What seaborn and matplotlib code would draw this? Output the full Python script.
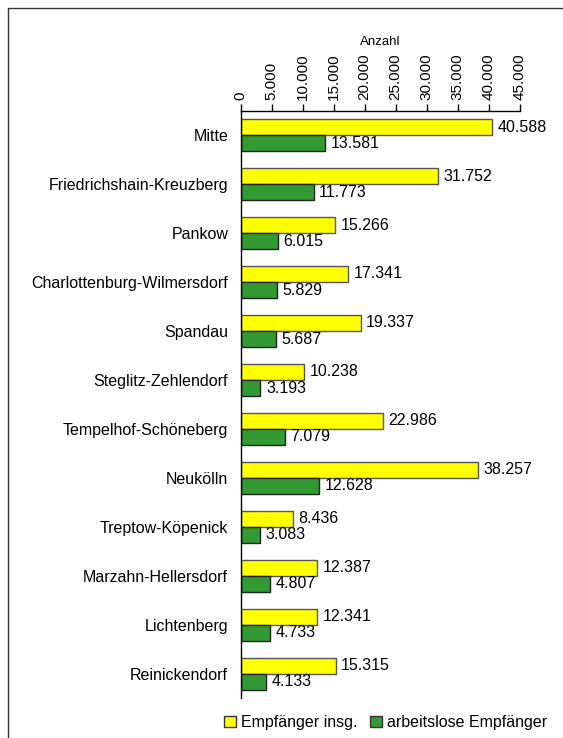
import matplotlib.pyplot as plt
import seaborn as sns
import pandas as pd
from matplotlib.lines import Line2D
from matplotlib.patches import Patch

districts = ["Mitte", "Friedrichshain-Kreuzberg", "Pankow", "Charlottenburg-Wilmersdorf",
             "Spandau", "Steglitz-Zehlendorf", "Tempelhof-Schöneberg", "Neukölln",
             "Treptow-Köpenick", "Marzahn-Hellersdorf", "Lichtenberg", "Reinickendorf"]
total = [40588, 31752, 15266, 17341, 19337, 10238, 22986, 38257, 8436, 12387, 12341, 15315]
unemployed = [13581, 11773, 6015, 5829, 5687, 3193, 7079, 12628, 3083, 4807, 4733, 4133]
series = ["Empfänger insg.", "arbeitslose Empfänger"]
xticks = list(range(0, 45001, 5000))

df = pd.DataFrame({
    "Bezirk": districts * 2,
    "Anzahl": total + unemployed,
    "Gruppe": [series[0]] * len(districts) + [series[1]] * len(districts),
})

sns.set_style("white")
plt.rcParams["font.family"] = ["Liberation Sans", "DejaVu Sans"]
plt.rcParams.update({"text.color": "black", "axes.labelcolor": "black",
                     "xtick.color": "black", "ytick.color": "black"})

fig = plt.figure(figsize=(5.63, 7.38), dpi=100)
ax = fig.add_axes([0.4275, 0.054, 0.4955, 0.796])

colors = {series[0]: "#FFFF00", series[1]: "#339933"}
sns.barplot(data=df, x="Anzahl", y="Bezirk", hue="Gruppe", palette=colors,
            width=0.66, gap=0, saturation=1, legend=False, ax=ax)

# bar edges and value labels
for container, s in zip(ax.containers, series):
    edge = "#555555" if s == series[0] else "#222222"
    for bar in container:
        bar.set_edgecolor(edge)
        bar.set_linewidth(1.0)
    labels = [f"{int(v):,}".replace(",", ".") for v in container.datavalues]
    ax.bar_label(container, labels=labels, padding=4, fontsize=11.5, color="black")

ax.set_xlim(0, 45000)
ax.set_ylim(len(districts) - 0.5, -0.5)
ax.xaxis.tick_top()
ax.xaxis.set_label_position("top")
ax.set_xticks(xticks)
ax.set_xticklabels([f"{t:,}".replace(",", ".") for t in xticks], rotation=90, fontsize=11)
ax.set_xlabel("Anzahl", fontsize=9.5, labelpad=6)
ax.set_ylabel("")

ax.set_yticks(range(len(districts)))
ax.set_yticklabels(districts, fontsize=11.5)
ax.set_yticks([i - 0.5 for i in range(len(districts) + 1)], minor=True)
ax.tick_params(axis="y", which="major", length=0, pad=9)
ax.tick_params(axis="y", which="minor", length=5, width=1, direction="out", color="black")
ax.tick_params(axis="x", length=5, width=1, direction="out", color="black", pad=3)

for side in ["right", "bottom"]:
    ax.spines[side].set_visible(False)
for side in ["left", "top"]:
    ax.spines[side].set_color("black")
    ax.spines[side].set_linewidth(1)

handles = [Patch(facecolor=colors[series[0]], edgecolor="#333333", label=series[0]),
           Patch(facecolor=colors[series[1]], edgecolor="#333333", label=series[1])]
fig.legend(handles=handles, loc="center", bbox_to_anchor=(0.685, 0.021), ncol=2,
           frameon=False, fontsize=11.5, handlelength=0.75, handleheight=0.75,
           handletextpad=0.3, columnspacing=0.8)

# outer frame
x0 = 8 / 563
y1 = 1 - 8 / 738
fig.add_artist(Line2D([x0, x0], [0, y1], color="#333333", lw=1, transform=fig.transFigure))
fig.add_artist(Line2D([x0, 1], [y1, y1], color="#333333", lw=1, transform=fig.transFigure))

fig.savefig("out.png", dpi=100)
